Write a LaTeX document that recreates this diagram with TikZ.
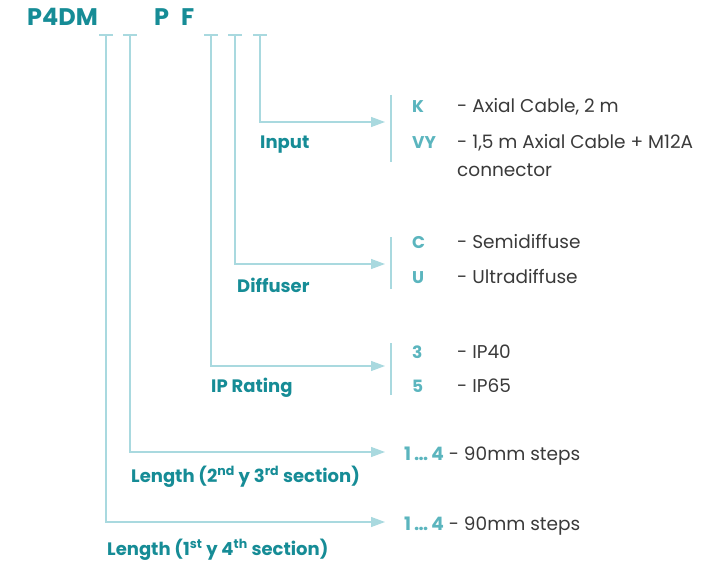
\documentclass[tikz,border=0pt]{standalone}
\usepackage{fontspec}
\setmainfont{Poppins}
\usetikzlibrary{arrows.meta}
\definecolor{lbl}{HTML}{168C96}
\definecolor{codec}{HTML}{5BB5BE}
\definecolor{ln}{HTML}{A9D9DF}
\definecolor{txt}{HTML}{3A3A3A}
\begin{document}
\begin{tikzpicture}[x=1pt,y=-1pt,
  conn/.style={draw=ln, line width=1.2pt, -{Triangle[length=14pt,width=10pt]}},
  tick/.style={draw=ln, line width=1.2pt},
  brk/.style={draw=ln, line width=1.2pt},
  lab/.style={anchor=base west, inner sep=0, text=lbl, font=\fontsize{18}{20}\selectfont\bfseries},
  head/.style={anchor=base west, inner sep=0, text=lbl, font=\fontsize{24}{26}\selectfont\bfseries},
  codetxt/.style={anchor=base west, inner sep=0, text=codec, font=\fontsize{17}{19}\selectfont\bfseries},
  desc/.style={anchor=base west, inner sep=0, text=txt, font=\fontsize{18.5}{20}\selectfont}]
\useasboundingbox (0,0) rectangle (722,564);
% header
\node[head] (p4dm) at (27,26) {P4DM};
\node[head] (pp) at (154,26) {P};
\node[head] (ff) at (181,26) {F};
% tick tops
\foreach \n/\x in {t1/106,t2/130,t3/211,t4/235,t5/260}{
  \coordinate (\n) at (\x,35);
  \draw[tick] (\x-7,35) -- (\x+7,35);
}
% arrow targets
\coordinate (a5) at (385,122);
\coordinate (a4) at (385,264);
\coordinate (a3) at (385,366);
\coordinate (a2) at (385,452);
\coordinate (a1) at (385,522);
\draw[conn] (t5) |- (a5);
\draw[conn] (t4) |- (a4);
\draw[conn] (t3) |- (a3);
\draw[conn] (t2) |- (a2);
\draw[conn] (t1) |- (a1);
% brackets
\coordinate (b5a) at (391,95);  \coordinate (b5b) at (391,162);
\coordinate (b4a) at (391,237); \coordinate (b4b) at (391,289);
\coordinate (b3a) at (391,343); \coordinate (b3b) at (391,395);
\draw[brk] (b5a) -- (b5b);
\draw[brk] (b4a) -- (b4b);
\draw[brk] (b3a) -- (b3b);
% labels
\node[lab] (linput) at (260,149) {Input};
\node[lab] (ldiff) at (237,292) {Diffuser};
\node[lab] (lip) at (211,392) {IP Rating};
\node[lab] (llen2) at (131,482) {Length (2\textsuperscript{nd} y 3\textsuperscript{rd} section)};
\node[lab] (llen1) at (107,555) {Length (1\textsuperscript{st} y 4\textsuperscript{th} section)};
% options
\node[codetxt] (ck) at (412,113) {K};
\node[desc] (dk) at (457,113) {- Axial Cable, 2 m};
\node[codetxt] (cvy) at (412,149) {VY};
\node[desc] (dvy) at (457,149) {- 1,5 m Axial Cable + M12A};
\node[desc] (dvy2) at (457,176) {connector};
\node[codetxt] (cc) at (412,248) {C};
\node[desc] (dc) at (457,248) {- Semidiffuse};
\node[codetxt] (cu) at (412,283) {U};
\node[desc] (du) at (457,283) {- Ultradiffuse};
\node[codetxt] (c3) at (412,358) {3};
\node[desc] (d3) at (457,358) {- IP40};
\node[codetxt] (c5) at (412,392) {5};
\node[desc] (d5) at (457,392) {- IP65};
\node[desc] (s2) at (404,460) {{\color{codec}\bfseries 1\,…\,4} - 90mm steps};
\node[desc] (s1) at (404,530) {{\color{codec}\bfseries 1\,…\,4} - 90mm steps};
\end{tikzpicture}
\end{document}
